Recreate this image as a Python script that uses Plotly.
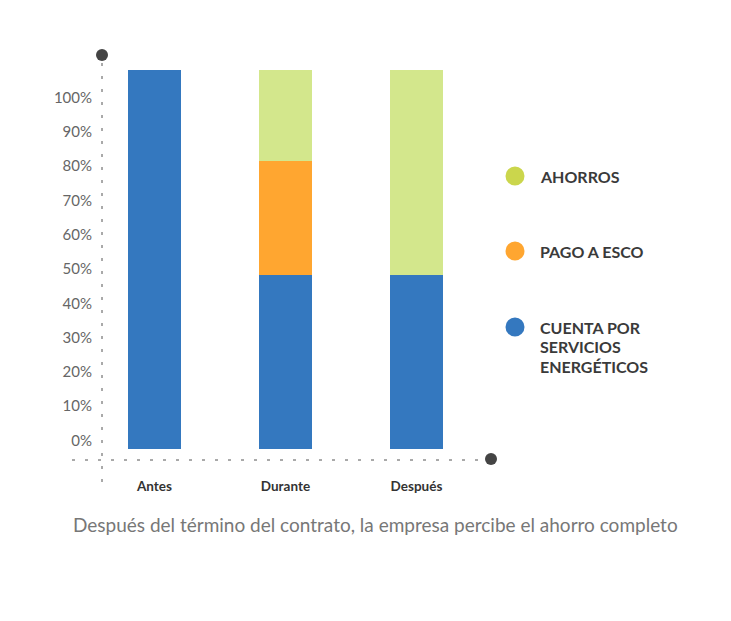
import plotly.graph_objects as go

# data (bar heights as shares of the bar, bottom to top)
categories = ["Antes", "Durante", "Después"]
cuenta = [100, 46, 46]
pago_esco = [0, 30, 0]
ahorros = [0, 24, 54]

series_names = ["CUENTA POR<br>SERVICIOS<br>ENERGÉTICOS", "PAGO A ESCO", "AHORROS"]
bar_colors = ["#3478bf", "#ffa630", "#d3e78c"]
dot_colors = ["#3478bf", "#ffa630", "#cbd64c"]

tick_text = ["0%", "10%", "20%", "30%", "40%", "50%", "60%", "70%", "80%", "90%", "100%"]
tick_start, tick_step = 2.25, 9.05

caption = "Después del término del contrato, la empresa percibe el ahorro completo"

W, H = 731, 621
OFF = 8  # page body margin
L, R, T, B = 102 - OFF, 249 + OFF, 55 - OFF, 161 + OFF
PW, PH = W - L - R, H - T - B


def px(x):
    return (x - OFF - L) / PW


def py_(y):
    return (H - B - (y - OFF)) / PH


fig = go.Figure()
for name, vals, col in zip(series_names, [cuenta, pago_esco, ahorros], bar_colors):
    fig.add_trace(go.Bar(
        x=list(range(len(categories))), y=vals, name=name,
        marker=dict(color=col, line=dict(width=0)),
        width=0.405, hoverinfo="skip",
    ))

shapes = [
    # dotted axes
    dict(type="line", xref="paper", yref="paper", x0=0, x1=0, y0=py_(482), y1=py_(62),
         line=dict(color="#555", width=1, dash="3px,10px")),
    dict(type="line", xref="paper", yref="paper", x0=px(72), x1=px(484), y0=0, y1=0,
         line=dict(color="#555", width=1, dash="3px,10px")),
    # end dots
    dict(type="circle", xref="paper", yref="paper", xsizemode="pixel", ysizemode="pixel",
         xanchor=0, yanchor=py_(55), x0=-6, x1=6, y0=-6, y1=6,
         fillcolor="#444", line=dict(width=0)),
    dict(type="circle", xref="paper", yref="paper", xsizemode="pixel", ysizemode="pixel",
         xanchor=px(491), yanchor=py_(459), x0=-6, x1=6, y0=-6, y1=6,
         fillcolor="#444", line=dict(width=0)),
]

annotations = []
legend_y = [327, 251, 176]
line_gap = 19.5
for name, col, ly in zip(series_names, dot_colors, legend_y):
    shapes.append(dict(type="circle", xref="paper", yref="paper",
                       xsizemode="pixel", ysizemode="pixel",
                       xanchor=px(515), yanchor=py_(ly), x0=-9.5, x1=9.5, y0=-9.5, y1=9.5,
                       fillcolor=col, line=dict(width=0)))
    for i, line in enumerate(name.split("<br>")):
        annotations.append(dict(
            xref="paper", yref="paper", x=px(538), y=py_(ly + i * line_gap),
            xanchor="left", yanchor="middle",
            text=line, showarrow=False, align="left",
            font=dict(family="Lato", size=16, color="#3a3a3a", weight=700),
        ))

annotations.append(dict(
    xref="paper", yref="paper", x=px(375.5), y=py_(524), xanchor="center", yanchor="middle",
    text=caption, showarrow=False,
    font=dict(family="Lato", size=19, color="#777"),
))

fig.update_layout(
    width=W, height=H,
    margin=dict(l=L, r=R, t=T, b=B),
    barmode="stack", showlegend=False,
    paper_bgcolor="white", plot_bgcolor="white",
    shapes=shapes, annotations=annotations,
    xaxis=dict(range=[-0.40, 2.50], tickvals=list(range(len(categories))), ticktext=categories,
               showgrid=False, zeroline=False, showline=False, ticks="",
               ticklabelstandoff=16,
               tickfont=dict(family="Lato", size=13.5, color="#333", weight=700)),
    yaxis=dict(range=[-2.9, 104], tickvals=[tick_start + i * tick_step for i in range(len(tick_text))],
               ticktext=tick_text, showgrid=False, zeroline=False, showline=False, ticks="",
               ticklabelstandoff=9,
               tickfont=dict(family="Lato", size=15, color="#666")),
)

fig.write_html("out.html")
